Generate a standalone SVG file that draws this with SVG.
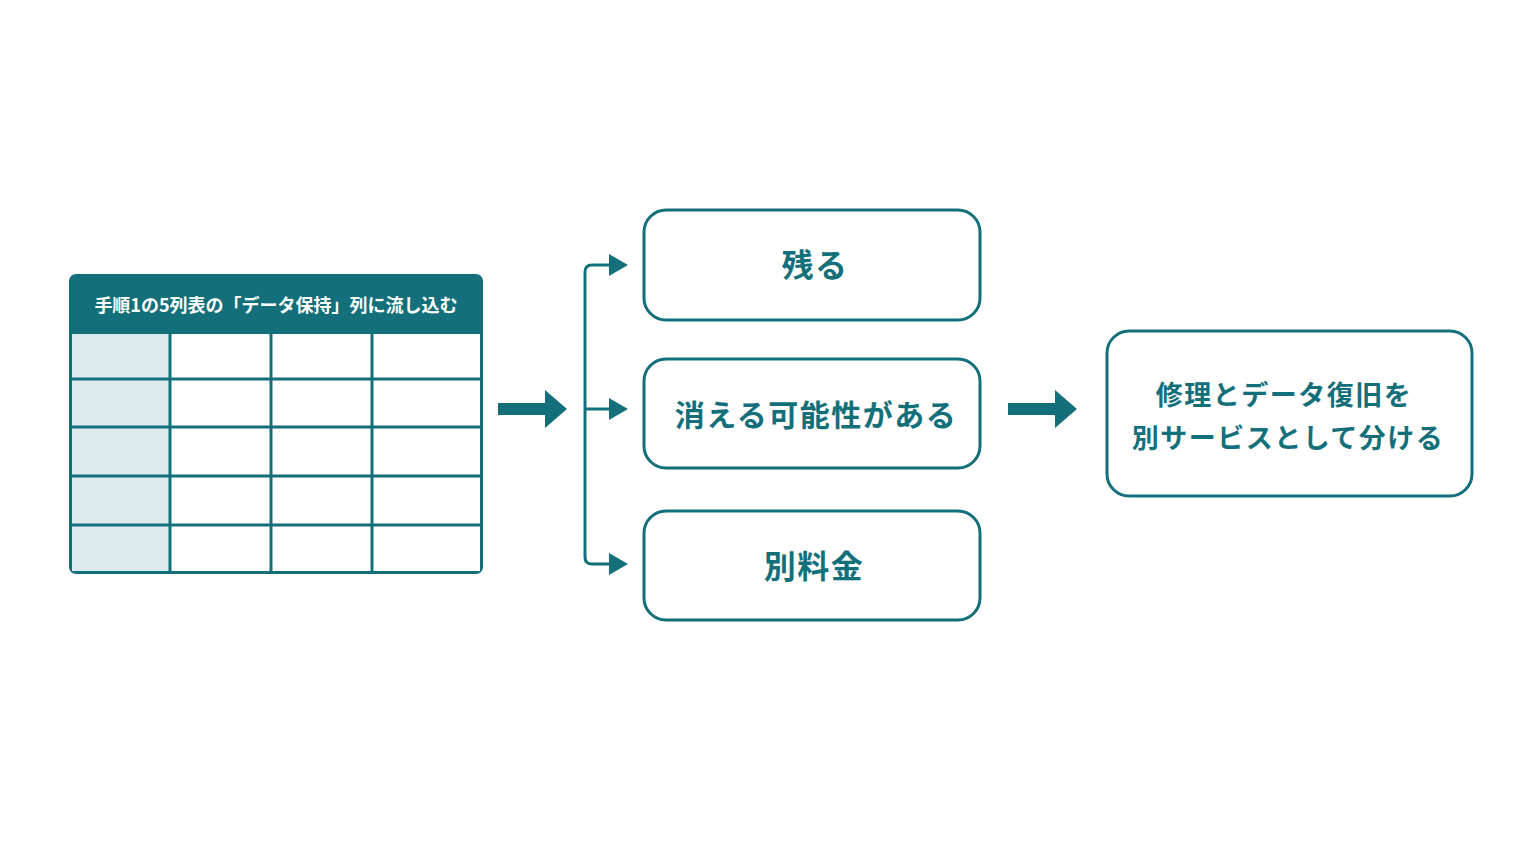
<svg xmlns="http://www.w3.org/2000/svg" width="1536" height="864" viewBox="0 0 1536 864">
<style>
.t{font-family:"Noto Sans CJK JP","Noto Sans",sans-serif;font-weight:bold;fill:#13707a;text-anchor:middle}
.s{letter-spacing:1.5px}
.box{fill:#fff;stroke:#13707a;stroke-width:3}
.ln{stroke:#13707a;stroke-width:3;fill:none}
.ah{fill:#13707a}
</style>
<rect width="1536" height="864" fill="#fff"/>
<g id="table">
<rect x="69" y="274" width="414" height="300" rx="7" fill="#13707a"/>
<rect x="72" y="334" width="408" height="237" fill="#fff"/>
<rect x="72" y="334" width="98" height="237" fill="#dcebee"/>
<g class="ln">
<line x1="72" y1="379" x2="480" y2="379"/><line x1="72" y1="427" x2="480" y2="427"/>
<line x1="72" y1="476" x2="480" y2="476"/><line x1="72" y1="525" x2="480" y2="525"/>
<line x1="170" y1="334" x2="170" y2="571"/><line x1="271" y1="334" x2="271" y2="571"/><line x1="372" y1="334" x2="372" y2="571"/>
</g>
<text x="276" y="312" class="t" style="fill:#fff" font-size="18">手順1の5列表の「データ保持」列に流し込む</text>
</g>
<g id="connectors">
<path class="ah" d="M498 403H545V390L567 409L545 428V415H498Z"/>
<path class="ln" d="M610 265H592Q585 265 585 272V557Q585 564 592 564H610M585 409H610"/>
<path class="ah" d="M609 254L628 265L609 276Z M609 398L628 409L609 420Z M609 553L628 564L609 575Z"/>
<path class="ah" d="M1008 403H1055V390L1077 409L1055 428V415H1008Z"/>
</g>
<g id="n1"><rect class="box" x="644" y="210" width="336" height="110" rx="22"/><text x="815" y="277" class="t s" font-size="32">残る</text></g>
<g id="n2"><rect class="box" x="644" y="359" width="336" height="109" rx="22"/><text x="816" y="426" class="t s" font-size="30">消える可能性がある</text></g>
<g id="n3"><rect class="box" x="644" y="511" width="336" height="109" rx="22"/><text x="814" y="578" class="t s" font-size="32">別料金</text></g>
<g id="n4"><rect class="box" x="1107" y="331" width="365" height="165" rx="22"/>
<text x="1284" y="405" class="t s" font-size="27">修理とデータ復旧を</text>
<text x="1288" y="448" class="t s" font-size="27">別サービスとして分ける</text></g>
</svg>
